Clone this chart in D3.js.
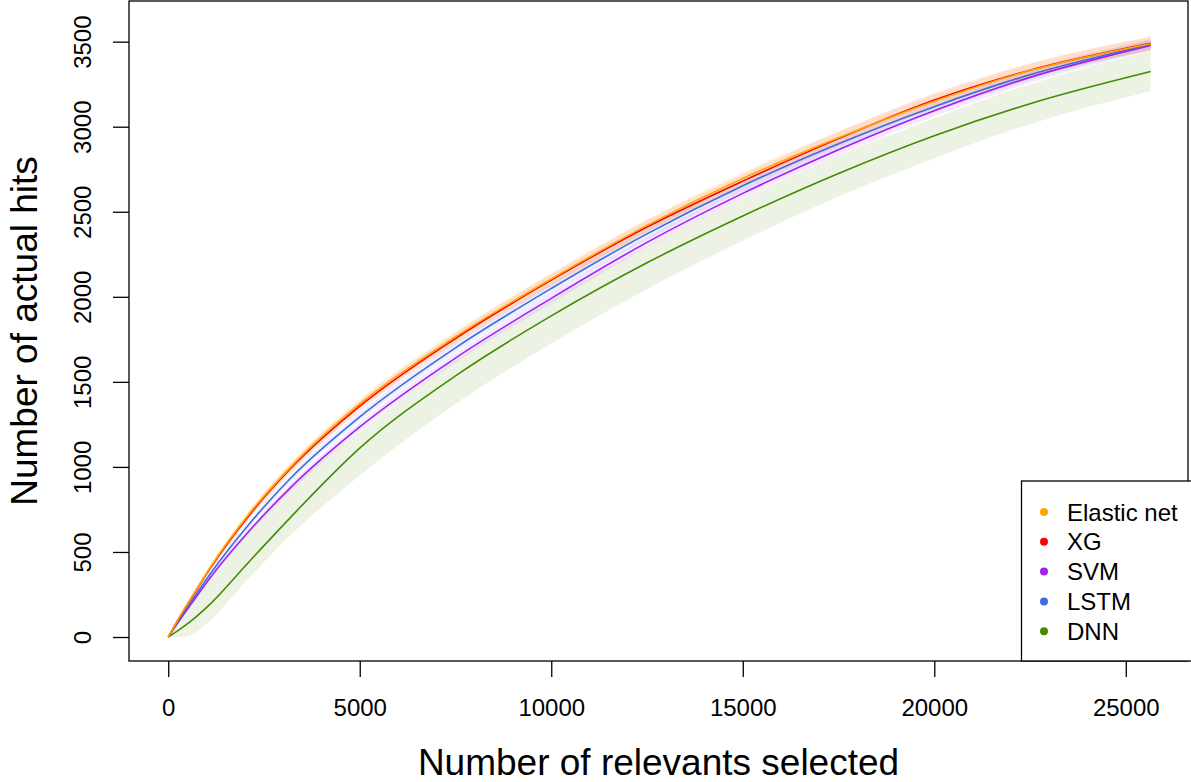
<!DOCTYPE html>
<html>
<head>
<meta charset="utf-8">
<script src="https://cdn.jsdelivr.net/npm/d3@7"></script>
<style>
  body { margin: 0; background: #fff; }
  svg { display: block; font-family: "Liberation Sans", Arial, sans-serif; }
</style>
</head>
<body>
<div id="chart"></div>
<script>
// x positions (number of relevants selected) where the curves were read
const xs = [0, 300, 600, 1100, 2100, 3200, 5000, 7500, 10000, 12500, 15000, 17500, 20000, 22500, 25650];

// mean curves
const elastic = [0, 120, 230, 410, 720, 1000, 1370, 1765, 2105, 2420, 2696, 2935, 3150, 3330, 3488];
const xg      = [0, 118, 226, 405, 712, 992, 1357, 1755, 2098, 2410, 2680, 2930, 3157, 3332, 3490];
const svm     = [0, 100, 195, 350, 620, 880, 1235, 1640, 1991, 2320, 2608, 2865, 3094, 3290, 3478];
const lstm    = [0, 108, 208, 372, 660, 935, 1294, 1700, 2049, 2370, 2653, 2900, 3118, 3305, 3483];
const dnn     = [0, 45, 95, 195, 440, 705, 1110, 1535, 1888, 2200, 2475, 2725, 2947, 3135, 3324];

// band half widths
const elasticBand = [0, 8, 12, 16, 22, 26, 30, 33, 35, 37, 38, 38, 38, 38, 38];
const xgBand      = [0, 8, 12, 16, 22, 26, 30, 33, 36, 38, 40, 40, 40, 40, 40];
const svmBand     = [0, 6, 10, 14, 18, 22, 25, 27, 29, 30, 31, 32, 32, 32, 32];
const lstmBand    = [0, 6, 10, 14, 18, 22, 25, 27, 29, 30, 31, 32, 32, 32, 32];
// DNN band is asymmetric
const dnnLow  = [0, 0, 12, 100, 345, 600, 950, 1370, 1725, 2045, 2330, 2590, 2815, 3015, 3210];
const dnnHigh = [0, 95, 190, 355, 615, 885, 1205, 1625, 1980, 2295, 2575, 2830, 3050, 3250, 3445];

const xTicks = [0, 5000, 10000, 15000, 20000, 25000];
const yTicks = [0, 500, 1000, 1500, 2000, 2500, 3000, 3500];

const names = ["Elastic net", "XG", "SVM", "LSTM", "DNN"];
const colors = ["#FFA500", "#FF0000", "#A020F0", "#4169E1", "#458B00"];

const width = 1191, height = 782;
const box = { left: 129, right: 1188, top: 1, bottom: 661 };

const x = d3.scaleLinear().domain([-1024, 26624]).range([box.left, box.right]);
const y = d3.scaleLinear().domain([-141, 3739]).range([box.bottom, box.top]);

const svg = d3.select("#chart").append("svg")
  .attr("width", width)
  .attr("height", height);

const series = [
  { name: "DNN", color: colors[4], mean: dnn, lo: dnnLow, hi: dnnHigh, op: 0.1 },
  { name: "SVM", color: colors[2], mean: svm, lo: svm.map((d, i) => d - svmBand[i]), hi: svm.map((d, i) => d + svmBand[i]), op: 0.1 },
  { name: "LSTM", color: colors[3], mean: lstm, lo: lstm.map((d, i) => d - lstmBand[i]), hi: lstm.map((d, i) => d + lstmBand[i]), op: 0.1 },
  { name: "XG", color: colors[1], mean: xg, lo: xg.map((d, i) => d - xgBand[i]), hi: xg.map((d, i) => d + xgBand[i]), op: 0.1 },
  { name: "Elastic net", color: colors[0], mean: elastic, lo: elastic.map((d, i) => d - elasticBand[i]), hi: elastic.map((d, i) => d + elasticBand[i]), op: 0.12 }
];

const area = d3.area()
  .x((d) => x(d.x))
  .y0((d) => y(d.lo))
  .y1((d) => y(d.hi))
  .curve(d3.curveMonotoneX);

const line = d3.line()
  .x((d) => x(d.x))
  .y((d) => y(d.y))
  .curve(d3.curveMonotoneX);

// bands
series.forEach((s) => {
  svg.append("path")
    .datum(xs.map((v, i) => ({ x: v, lo: s.lo[i], hi: s.hi[i] })))
    .attr("d", area)
    .attr("fill", s.color)
    .attr("fill-opacity", s.op);
});

// lines
series.forEach((s) => {
  svg.append("path")
    .datum(xs.map((v, i) => ({ x: v, y: s.mean[i] })))
    .attr("d", line)
    .attr("fill", "none")
    .attr("stroke", s.color)
    .attr("stroke-width", 1.6);
});

// plot box
svg.append("rect")
  .attr("x", box.left)
  .attr("y", box.top)
  .attr("width", box.right - box.left)
  .attr("height", box.bottom - box.top)
  .attr("fill", "none")
  .attr("stroke", "#000")
  .attr("stroke-width", 1.3);

// x axis
const xAxis = svg.append("g")
  .attr("transform", `translate(0, ${box.bottom})`)
  .call(d3.axisBottom(x).tickValues(xTicks).tickSize(16).tickPadding(22).tickFormat(d3.format("d")));
xAxis.select(".domain").remove();
xAxis.selectAll("line").attr("stroke-width", 1.3);
xAxis.selectAll("text").attr("font-size", 24).attr("font-family", "Liberation Sans, Arial").attr("fill", "#000");

// y axis
const yAxis = svg.append("g")
  .attr("transform", `translate(${box.left}, 0)`)
  .call(d3.axisLeft(y).tickValues(yTicks).tickSize(16).tickFormat(d3.format("d")));
yAxis.select(".domain").remove();
yAxis.selectAll("line").attr("stroke-width", 1.3);
yAxis.selectAll("text")
  .attr("font-size", 24)
  .attr("font-family", "Liberation Sans, Arial")
  .attr("fill", "#000")
  .attr("x", null)
  .attr("dy", null)
  .attr("text-anchor", "middle")
  .attr("transform", "translate(-38,0) rotate(-90)");

// axis titles
svg.append("text")
  .attr("x", (box.left + box.right) / 2)
  .attr("y", 775)
  .attr("text-anchor", "middle")
  .attr("font-size", 37)
  .text("Number of relevants selected");

svg.append("text")
  .attr("transform", `translate(37, ${(box.top + box.bottom) / 2}) rotate(-90)`)
  .attr("text-anchor", "middle")
  .attr("font-size", 37)
  .text("Number of actual hits");

// legend
const legend = svg.append("g");
legend.append("rect")
  .attr("x", 1021.5)
  .attr("y", 481)
  .attr("width", 1191 - 1021.5 + 2)
  .attr("height", box.bottom - 481)
  .attr("fill", "#fff")
  .attr("stroke", "#000")
  .attr("stroke-width", 1.3);

names.forEach((n, i) => {
  const cy = 512 + i * 29.8;
  legend.append("circle")
    .attr("cx", 1044)
    .attr("cy", cy)
    .attr("r", 4)
    .attr("fill", colors[i]);
  legend.append("text")
    .attr("x", 1067)
    .attr("y", cy + 8.5)
    .attr("font-size", 24)
    .text(n);
});
</script>
</body>
</html>
